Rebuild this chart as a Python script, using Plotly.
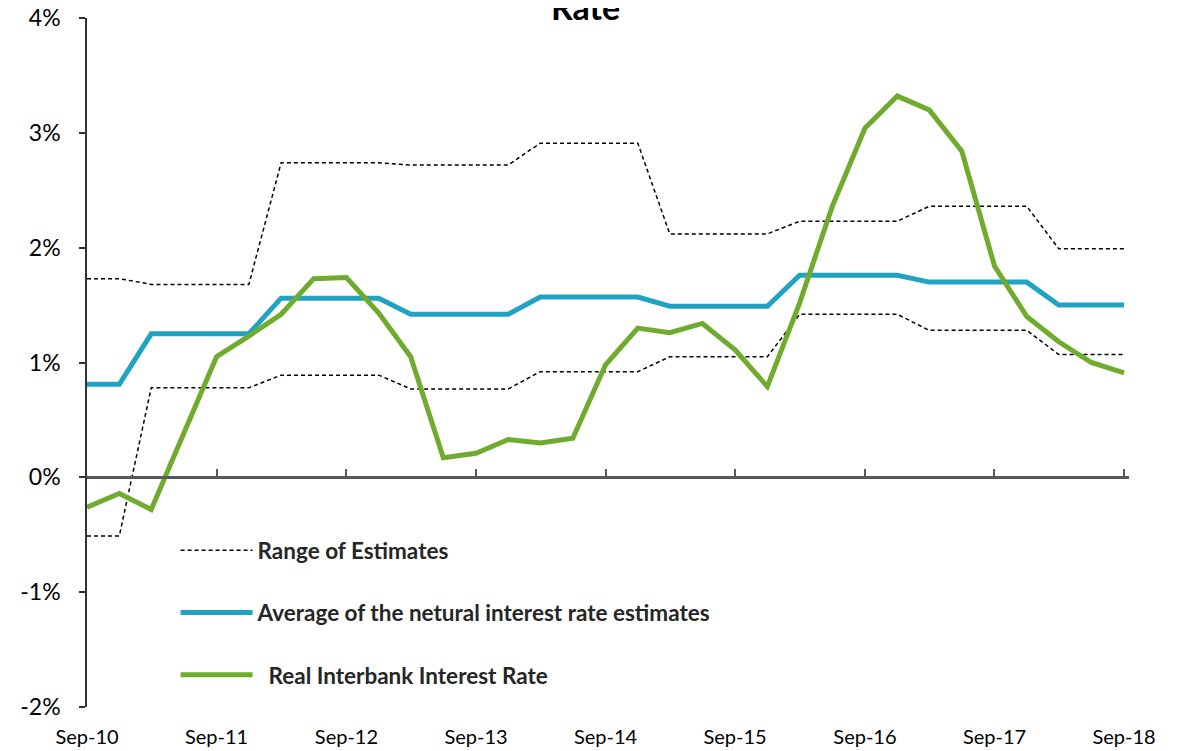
import pandas as pd
import plotly.graph_objects as go


QUARTERS = [
    "Sep-10", "Dec-10", "Mar-11", "Jun-11", "Sep-11", "Dec-11", "Mar-12", "Jun-12",
    "Sep-12", "Dec-12", "Mar-13", "Jun-13", "Sep-13", "Dec-13", "Mar-14", "Jun-14",
    "Sep-14", "Dec-14", "Mar-15", "Jun-15", "Sep-15", "Dec-15", "Mar-16", "Jun-16",
    "Sep-16", "Dec-16", "Mar-17", "Jun-17", "Sep-17", "Dec-17", "Mar-18", "Jun-18",
    "Sep-18",
]

RANGE_UPPER = [
    1.73, 1.73, 1.68, 1.68, 1.68, 1.68, 2.74, 2.74, 2.74, 2.74, 2.72, 2.72, 2.72, 2.72,
    2.91, 2.91, 2.91, 2.91, 2.12, 2.12, 2.12, 2.12, 2.23, 2.23, 2.23, 2.23, 2.36, 2.36,
    2.36, 2.36, 1.99, 1.99, 1.99,
]
RANGE_LOWER = [
    -0.51, -0.51, 0.78, 0.78, 0.78, 0.78, 0.89, 0.89, 0.89, 0.89, 0.77, 0.77, 0.77, 0.77,
    0.92, 0.92, 0.92, 0.92, 1.05, 1.05, 1.05, 1.05, 1.42, 1.42, 1.42, 1.42, 1.28, 1.28,
    1.28, 1.28, 1.07, 1.07, 1.07,
]
AVERAGE = [
    0.81, 0.81, 1.25, 1.25, 1.25, 1.25, 1.56, 1.56, 1.56, 1.56, 1.42, 1.42, 1.42, 1.42,
    1.57, 1.57, 1.57, 1.57, 1.49, 1.49, 1.49, 1.49, 1.76, 1.76, 1.76, 1.76, 1.70, 1.70,
    1.70, 1.70, 1.50, 1.50, 1.50,
]
REAL_INTERBANK = [
    -0.26, -0.14, -0.28, 0.38, 1.05, 1.23, 1.42, 1.73, 1.74, 1.43, 1.05, 0.17, 0.21, 0.33,
    0.30, 0.34, 0.98, 1.30, 1.26, 1.34, 1.11, 0.79, 1.52, 2.36, 3.04, 3.32, 3.20, 2.84,
    1.84, 1.40, 1.18, 1.00, 0.91,
]

Y_TICKS = [-2, -1, 0, 1, 2, 3, 4]
Y_TICK_TEXT = ["-2%", "-1%", "0%", "1%", "2%", "3%", "4%"]

GREEN = "#6FAC2E"
BLUE = "#20A3C2"
FONT = "Lato"

dates = pd.to_datetime(QUARTERS, format="%b-%y")
x_range = [dates[0], dates[-1] + pd.Timedelta(days=14)]

fig = go.Figure()

fig.add_trace(go.Scatter(
    x=dates, y=RANGE_UPPER, mode="lines", name="<b>Range of Estimates</b>",
    legendgroup="range", line=dict(color="black", width=1.5, dash="4px,3px"),
))
fig.add_trace(go.Scatter(
    x=dates, y=RANGE_LOWER, mode="lines", name="Range of Estimates",
    legendgroup="range", showlegend=False,
    line=dict(color="black", width=1.5, dash="4px,3px"),
))
fig.add_trace(go.Scatter(
    x=dates, y=AVERAGE, mode="lines",
    name="<b>Average of the netural interest rate estimates</b>",
    legendgroup="avg", line=dict(color=BLUE, width=5),
))
fig.add_trace(go.Scatter(
    x=dates, y=REAL_INTERBANK, mode="lines",
    name="<b>  Real Interbank Interest Rate</b>",
    legendgroup="real", line=dict(color=GREEN, width=5),
    xaxis="x2",
))

# title is cut at the top edge in the source chart; only its last line shows
fig.add_annotation(
    text="<b>Rate'</b>", xref="paper", yref="paper", x=0.482, y=1.016,
    xanchor="center", yanchor="middle", showarrow=False,
    font=dict(size=34, family=FONT, color="black"),
)

# page body adds ~8px offset, so margins are shifted to compensate
fig.update_layout(
    width=1185,
    height=751,
    template="plotly_white",
    paper_bgcolor="white",
    plot_bgcolor="white",
    font=dict(family=FONT, color="black"),
    margin=dict(l=79, r=64, t=10, b=52, autoexpand=False),
    showlegend=True,
    legend=dict(
        x=0.085, y=0.258, xanchor="left", yanchor="top",
        bgcolor="rgba(0,0,0,0)", borderwidth=0,
        font=dict(size=22.5, family=FONT, color="#262626"),
        itemwidth=72, tracegroupgap=30,
    ),
    xaxis=dict(
        type="date", range=x_range,
        tick0=dates[0], dtick="M12", tickformat="%b-%y",
        showgrid=False, zeroline=False, showline=False, ticks="",
        tickfont=dict(size=20, family=FONT, color="black"),
        ticklabelstandoff=16,
    ),
    xaxis2=dict(
        type="date", overlaying="x", matches="x", anchor="free", position=1 / 3,
        side="bottom", tick0=dates[0], dtick="M12",
        showgrid=False, zeroline=False, showticklabels=False,
        showline=True, linecolor="#595959", linewidth=2.5,
        ticks="inside", ticklen=8, tickwidth=1.5, tickcolor="#595959",
    ),
    yaxis=dict(
        range=[-2, 4], tickvals=Y_TICKS, ticktext=Y_TICK_TEXT,
        showgrid=False, zeroline=False,
        showline=True, linecolor="#333333", linewidth=1.5,
        ticks="outside", ticklen=6, tickwidth=1.5, tickcolor="#333333",
        tickfont=dict(size=23, family=FONT, color="black"),
        ticklabelstandoff=14, ticklabeloverflow="allow",
    ),
)

fig.write_html("out.html")
